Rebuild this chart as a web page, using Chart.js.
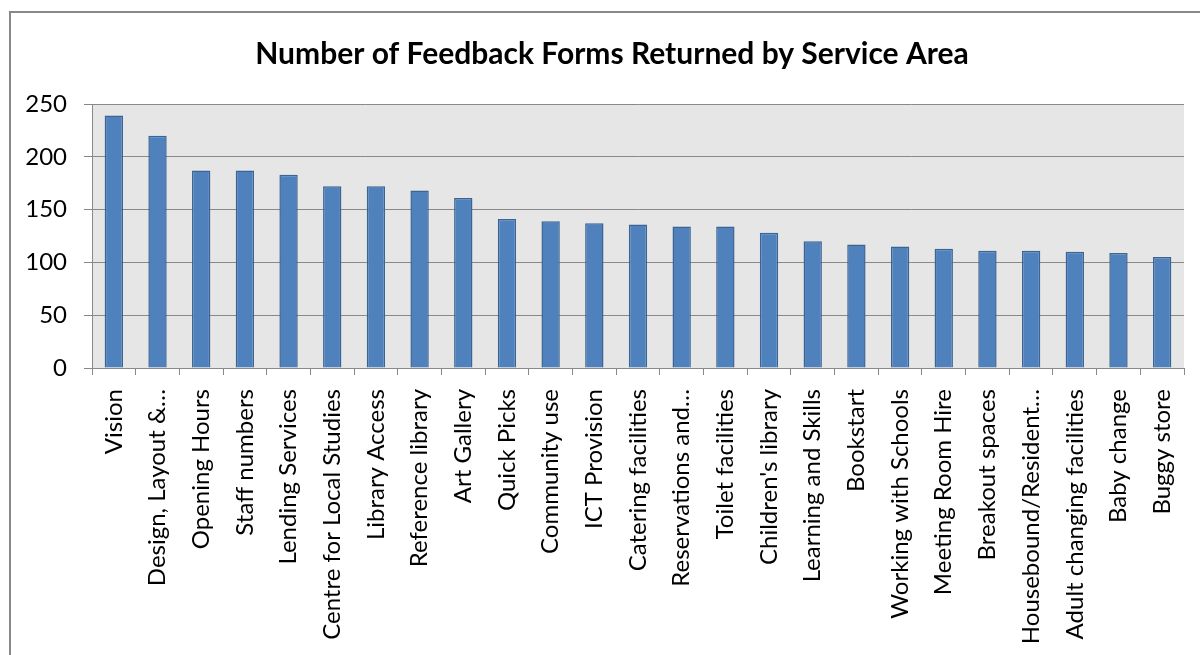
<!DOCTYPE html>
<html>
<head>
<meta charset="utf-8">
<script src="https://cdn.jsdelivr.net/npm/chart.js@4"></script>
<style>
    body { margin: 0; background: #fff; overflow: hidden; }
    #caixa {
        position: absolute; left: 9px; top: 11px;
        width: 1202px; height: 660px;
        border-left: 2px solid #888; border-top: 2px solid #888;
    }
    canvas { display: block; }
</style>
</head>
<body>
<div id="caixa"><canvas id="grafico" width="1202" height="642"></canvas></div>
<script>
const categorias = [
    'Vision', 'Design, Layout &…', 'Opening Hours', 'Staff numbers', 'Lending Services',
    'Centre for Local Studies', 'Library Access', 'Reference library', 'Art Gallery', 'Quick Picks',
    'Community use', 'ICT Provision', 'Catering facilities', 'Reservations and…', 'Toilet facilities',
    "Children's library", 'Learning and Skills', 'Bookstart', 'Working with Schools', 'Meeting Room Hire',
    'Breakout spaces', 'Housebound/Resident…', 'Adult changing facilities', 'Baby change', 'Buggy store'
];
const formularios = [
    239, 220, 187, 187, 183,
    172, 172, 168, 161, 141,
    139, 137, 136, 134, 134,
    128, 120, 117, 115, 113,
    111, 111, 110, 109, 105
];
const ticksY = [0, 50, 100, 150, 200, 250];

// fundo cinza só na área do gráfico
const fundoPlot = {
    id: 'fundoPlot',
    beforeDraw(chart) {
        const { ctx, chartArea: a } = chart;
        ctx.save();
        ctx.fillStyle = '#e6e6e6';
        ctx.fillRect(a.left, a.top, a.right - a.left, a.bottom - a.top);
        ctx.restore();
    }
};

const fonte = "Lato, 'Open Sans', sans-serif";

new Chart(document.getElementById('grafico'), {
    type: 'bar',
    data: {
        labels: categorias,
        datasets: [{
            data: formularios,
            backgroundColor: '#4f81bd',
            borderColor: '#3a6494',
            borderWidth: 1.5,
            barPercentage: 0.42,
            categoryPercentage: 1
        }]
    },
    options: {
        responsive: false,
        animation: false,
        // padding simétrico para o título ficar centrado na caixa toda
        layout: { padding: { left: 15, right: 15, top: 0, bottom: 0 } },
        plugins: {
            legend: { display: false },
            tooltip: { enabled: false },
            title: {
                display: true,
                text: 'Number of Feedback Forms Returned by Service Area',
                color: '#000',
                font: { family: fonte, size: 30, weight: 'bold', lineHeight: 1.2 },
                padding: { top: 23, bottom: 32 }
            }
        },
        scales: {
            x: {
                grid: { display: true, drawOnChartArea: false, offset: true, drawTicks: true, tickLength: 7, color: '#888' },
                border: { color: '#888', width: 1 },
                ticks: {
                    autoSkip: false, maxRotation: 90, minRotation: 90, padding: 14,
                    color: '#000', font: { family: fonte, size: 24 }
                },
                afterFit(scale) { scale.height = 287; }
            },
            y: {
                min: 0, max: 250,
                grid: { color: '#888', tickLength: 8, lineWidth: 1 },
                border: { color: '#888', width: 1 },
                afterBuildTicks(scale) { scale.ticks = ticksY.map(v => ({ value: v })); },
                ticks: { padding: 17, color: '#000', font: { family: fonte, size: 24 } },
                afterFit(scale) { scale.width = 66; }
            },
            // eixo vazio à direita, só para reservar a margem
            margemDireita: {
                position: 'right',
                grid: { display: false, drawTicks: false },
                border: { display: false },
                ticks: { display: false },
                afterFit(scale) { scale.width = 14; }
            }
        }
    },
    plugins: [fundoPlot]
});
</script>
</body>
</html>
